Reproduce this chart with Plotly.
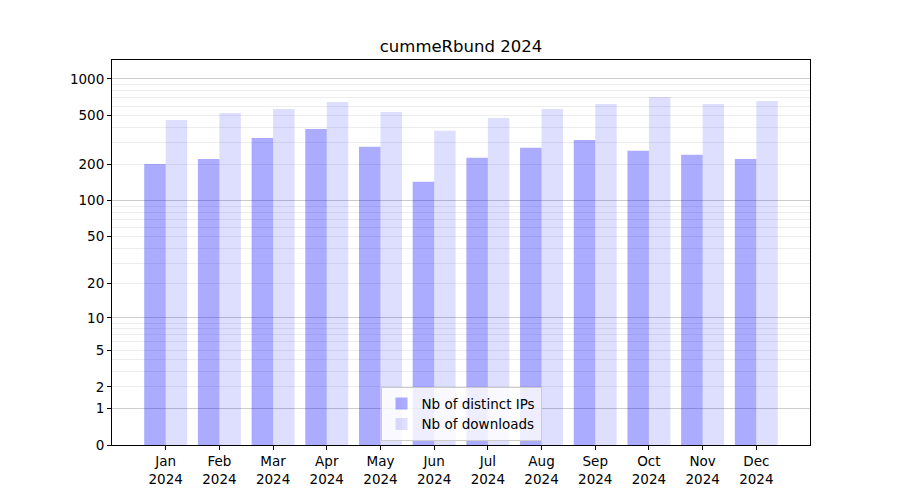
import math
import plotly.graph_objects as go

months = ["Jan", "Feb", "Mar", "Apr", "May", "Jun", "Jul", "Aug", "Sep", "Oct", "Nov", "Dec"]
year = "2024"
distinct_ips = [200, 220, 328, 389, 277, 143, 225, 272, 316, 257, 238, 220]
downloads = [461, 526, 568, 648, 536, 375, 479, 568, 624, 712, 624, 660]

tick_values = [0, 1, 2, 5, 10, 20, 50, 100, 200, 500, 1000]
major_grid = [1, 10, 100, 1000]
minor_grid = [2, 3, 4, 5, 6, 7, 8, 9, 20, 30, 40, 50, 60, 70, 80, 90,
              200, 300, 400, 500, 600, 700, 800, 900]

x_idx = list(range(len(months)))
font = "DejaVu Sans, Liberation Sans, sans-serif"

# page body has an 8px margin; figure sized so that plot area lands at x 112-810, y 60-445
W, H = 884, 484
OFF = 8

fig = go.Figure()
fig.add_trace(go.Bar(
    x=x_idx, y=[v + 1 for v in distinct_ips], name="Nb of distinct IPs",
    width=0.4, offset=-0.4, marker=dict(color="rgba(0,0,255,0.33)", line=dict(width=0)),
    customdata=distinct_ips, hovertemplate="%{customdata}<extra></extra>",
))
fig.add_trace(go.Bar(
    x=x_idx, y=[v + 1 for v in downloads], name="Nb of downloads",
    width=0.4, offset=0.0, marker=dict(color="rgba(0,0,255,0.13)", line=dict(width=0)),
    customdata=downloads, hovertemplate="%{customdata}<extra></extra>",
))
fig.add_trace(go.Scatter(x=[None], y=[None], yaxis="y2", showlegend=False, hoverinfo="skip"))

yrange = [0, math.log10(1432)]

fig.update_layout(
    width=W, height=H,
    margin=dict(l=112 - OFF, r=W + OFF - 810, t=60 - OFF, b=H + OFF - 445, autoexpand=False),
    paper_bgcolor="white", plot_bgcolor="white",
    font=dict(family=font, size=13.5, color="black"),
    title=dict(text="cummeRbund 2024", x=((112 + 810) / 2 - OFF) / W, xanchor="center",
               y=1 - (46 - OFF) / H, yanchor="middle", font=dict(size=16.5, color="black")),
    barmode="overlay",
    showlegend=True,
    legend=dict(x=0.5, xanchor="center", y=0.01, yanchor="bottom",
                bgcolor="rgba(255,255,255,0.8)", bordercolor="#cccccc", borderwidth=1,
                font=dict(size=13.5), itemsizing="constant", tracegroupgap=0,
                itemwidth=30),
    xaxis=dict(
        range=[-1, 12], tickmode="array", tickvals=x_idx,
        ticktext=[f"{m}<br>{year}" for m in months],
        showgrid=False, zeroline=False, showline=True, linecolor="black", linewidth=1,
        mirror=True, ticks="outside", ticklen=4, tickcolor="black",
    ),
    yaxis=dict(
        type="log", range=yrange, tickmode="array",
        tickvals=[v + 1 for v in tick_values], ticktext=[str(v) for v in tick_values],
        showgrid=False, zeroline=False, showline=True, linecolor="black", linewidth=1,
        mirror=True, ticks="outside", ticklen=4, tickcolor="black",
        minor=dict(tickmode="array", tickvals=[v + 1 for v in minor_grid], showgrid=True,
                   gridcolor="rgba(0,0,0,0.07)", gridwidth=1, ticks=""),
    ),
    yaxis2=dict(
        type="log", range=yrange, overlaying="y", side="left", tickmode="array",
        tickvals=[v + 1 for v in major_grid], showticklabels=False, ticks="",
        showgrid=True, gridcolor="rgba(0,0,0,0.2)", gridwidth=1,
        zeroline=False, showline=False,
    ),
)

fig.write_html("out.html")
